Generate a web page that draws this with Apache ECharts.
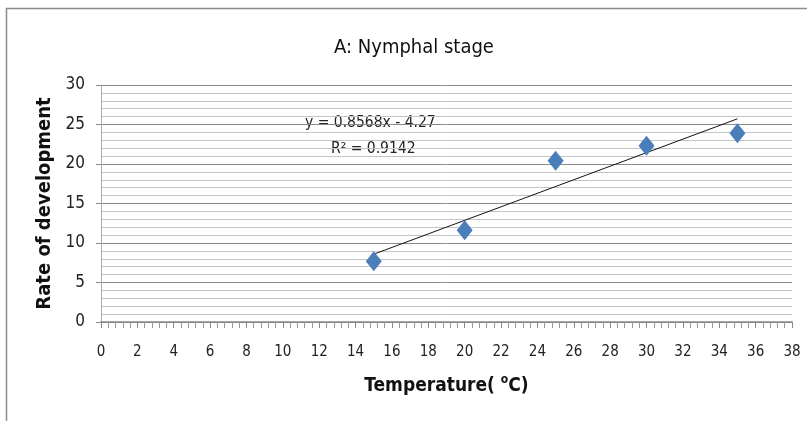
<!DOCTYPE html>
<html><head><meta charset="utf-8">
<script src="https://cdn.jsdelivr.net/npm/echarts@6/dist/echarts.min.js"></script>
<style>html,body{margin:0;padding:0;background:#fff}#c{width:807px;height:421px}</style>
</head><body><div id="c"></div>
<script>
var temperatures = [15, 20, 25, 30, 35];
var rates = [7.7, 11.6, 20.4, 22.3, 23.9];
var slope = 0.8568, intercept = -4.27, r2 = 0.9142;
var trendX = [15, 35];
var xTickLabels = ['0','2','4','6','8','10','12','14','16','18','20','22','24','26','28','30','32','34','36','38'];

var font = '"DejaVu Sans Condensed", "Liberation Sans Narrow", sans-serif';
var chart = echarts.init(document.getElementById('c'));
chart.setOption({
  animation: false,
  graphic: [{type:'rect', shape:{x:6.5,y:8.5,width:820,height:430}, style:{fill:'none', stroke:'#8c8c8c', lineWidth:1.5}, silent:true},
    {type:'text', left:305, top:115, style:{text:'y = 0.8568x - 4.27', font:'15.5px ' + font, fill:'#222'}},
    {type:'text', left:331, top:141, style:{text:'R² = 0.9142', font:'15.5px ' + font, fill:'#222'}}
  ],
  title: {text:'A: Nymphal stage', left:409, top:33, textAlign:'center', textStyle:{fontFamily:font, fontSize:20, fontWeight:'normal', color:'#111'}},
  grid: {left:101, right:15, top:85, bottom:99},
  xAxis: {type:'value', min:0, max:38, interval:2,
    name:'{a|Temperature( }{s|o}{a|C)}', nameLocation:'middle', nameGap:52,
    nameTextStyle:{rich:{a:{fontFamily:font, fontSize:19, fontWeight:'bold', color:'#111'}, s:{fontFamily:font, fontSize:12, fontWeight:'bold', color:'#111', verticalAlign:'top', padding:[0,0,12,0]}}},
    axisLine:{lineStyle:{color:'#888', width:1.5}},
    axisTick:{show:true, length:6, inside:false, lineStyle:{color:'#888'}},
    minorTick:{show:true, splitNumber:5, length:6, lineStyle:{color:'#999'}},
    splitLine:{show:false},
    axisLabel:{fontFamily:font, fontSize:15, color:'#222', margin:23, formatter:function(v){return xTickLabels[Math.round(v/2)];}}
  },
  yAxis: {type:'value', min:0, max:30, interval:5,
    name:'Rate of development', nameLocation:'middle', nameGap:43, nameRotate:90,
    nameTextStyle:{fontFamily:font, fontSize:20, fontWeight:'bold', color:'#111'},
    axisLine:{show:true, lineStyle:{color:'#aaa'}},
    axisTick:{show:true, length:5, lineStyle:{color:'#888'}},
    splitLine:{show:true, lineStyle:{color:'#8a8a8a', width:1}},
    minorTick:{show:false, splitNumber:5},
    minorSplitLine:{show:true, lineStyle:{color:'#c4c4c4', width:1}},
    axisLabel:{fontFamily:font, fontSize:17, color:'#222', margin:16}
  },
  series: [
    {type:'line', data: trendX.map(function(x){return [x, slope*x + intercept];}), symbol:'none', lineStyle:{color:'#111', width:1}, z:2},
    {type:'scatter', data: temperatures.map(function(t,i){return [t, rates[i]];}), symbol:'diamond', symbolSize:[16,20], itemStyle:{color:'#4a7ebb', opacity:1}, z:3}
  ]
});
</script></body></html>
